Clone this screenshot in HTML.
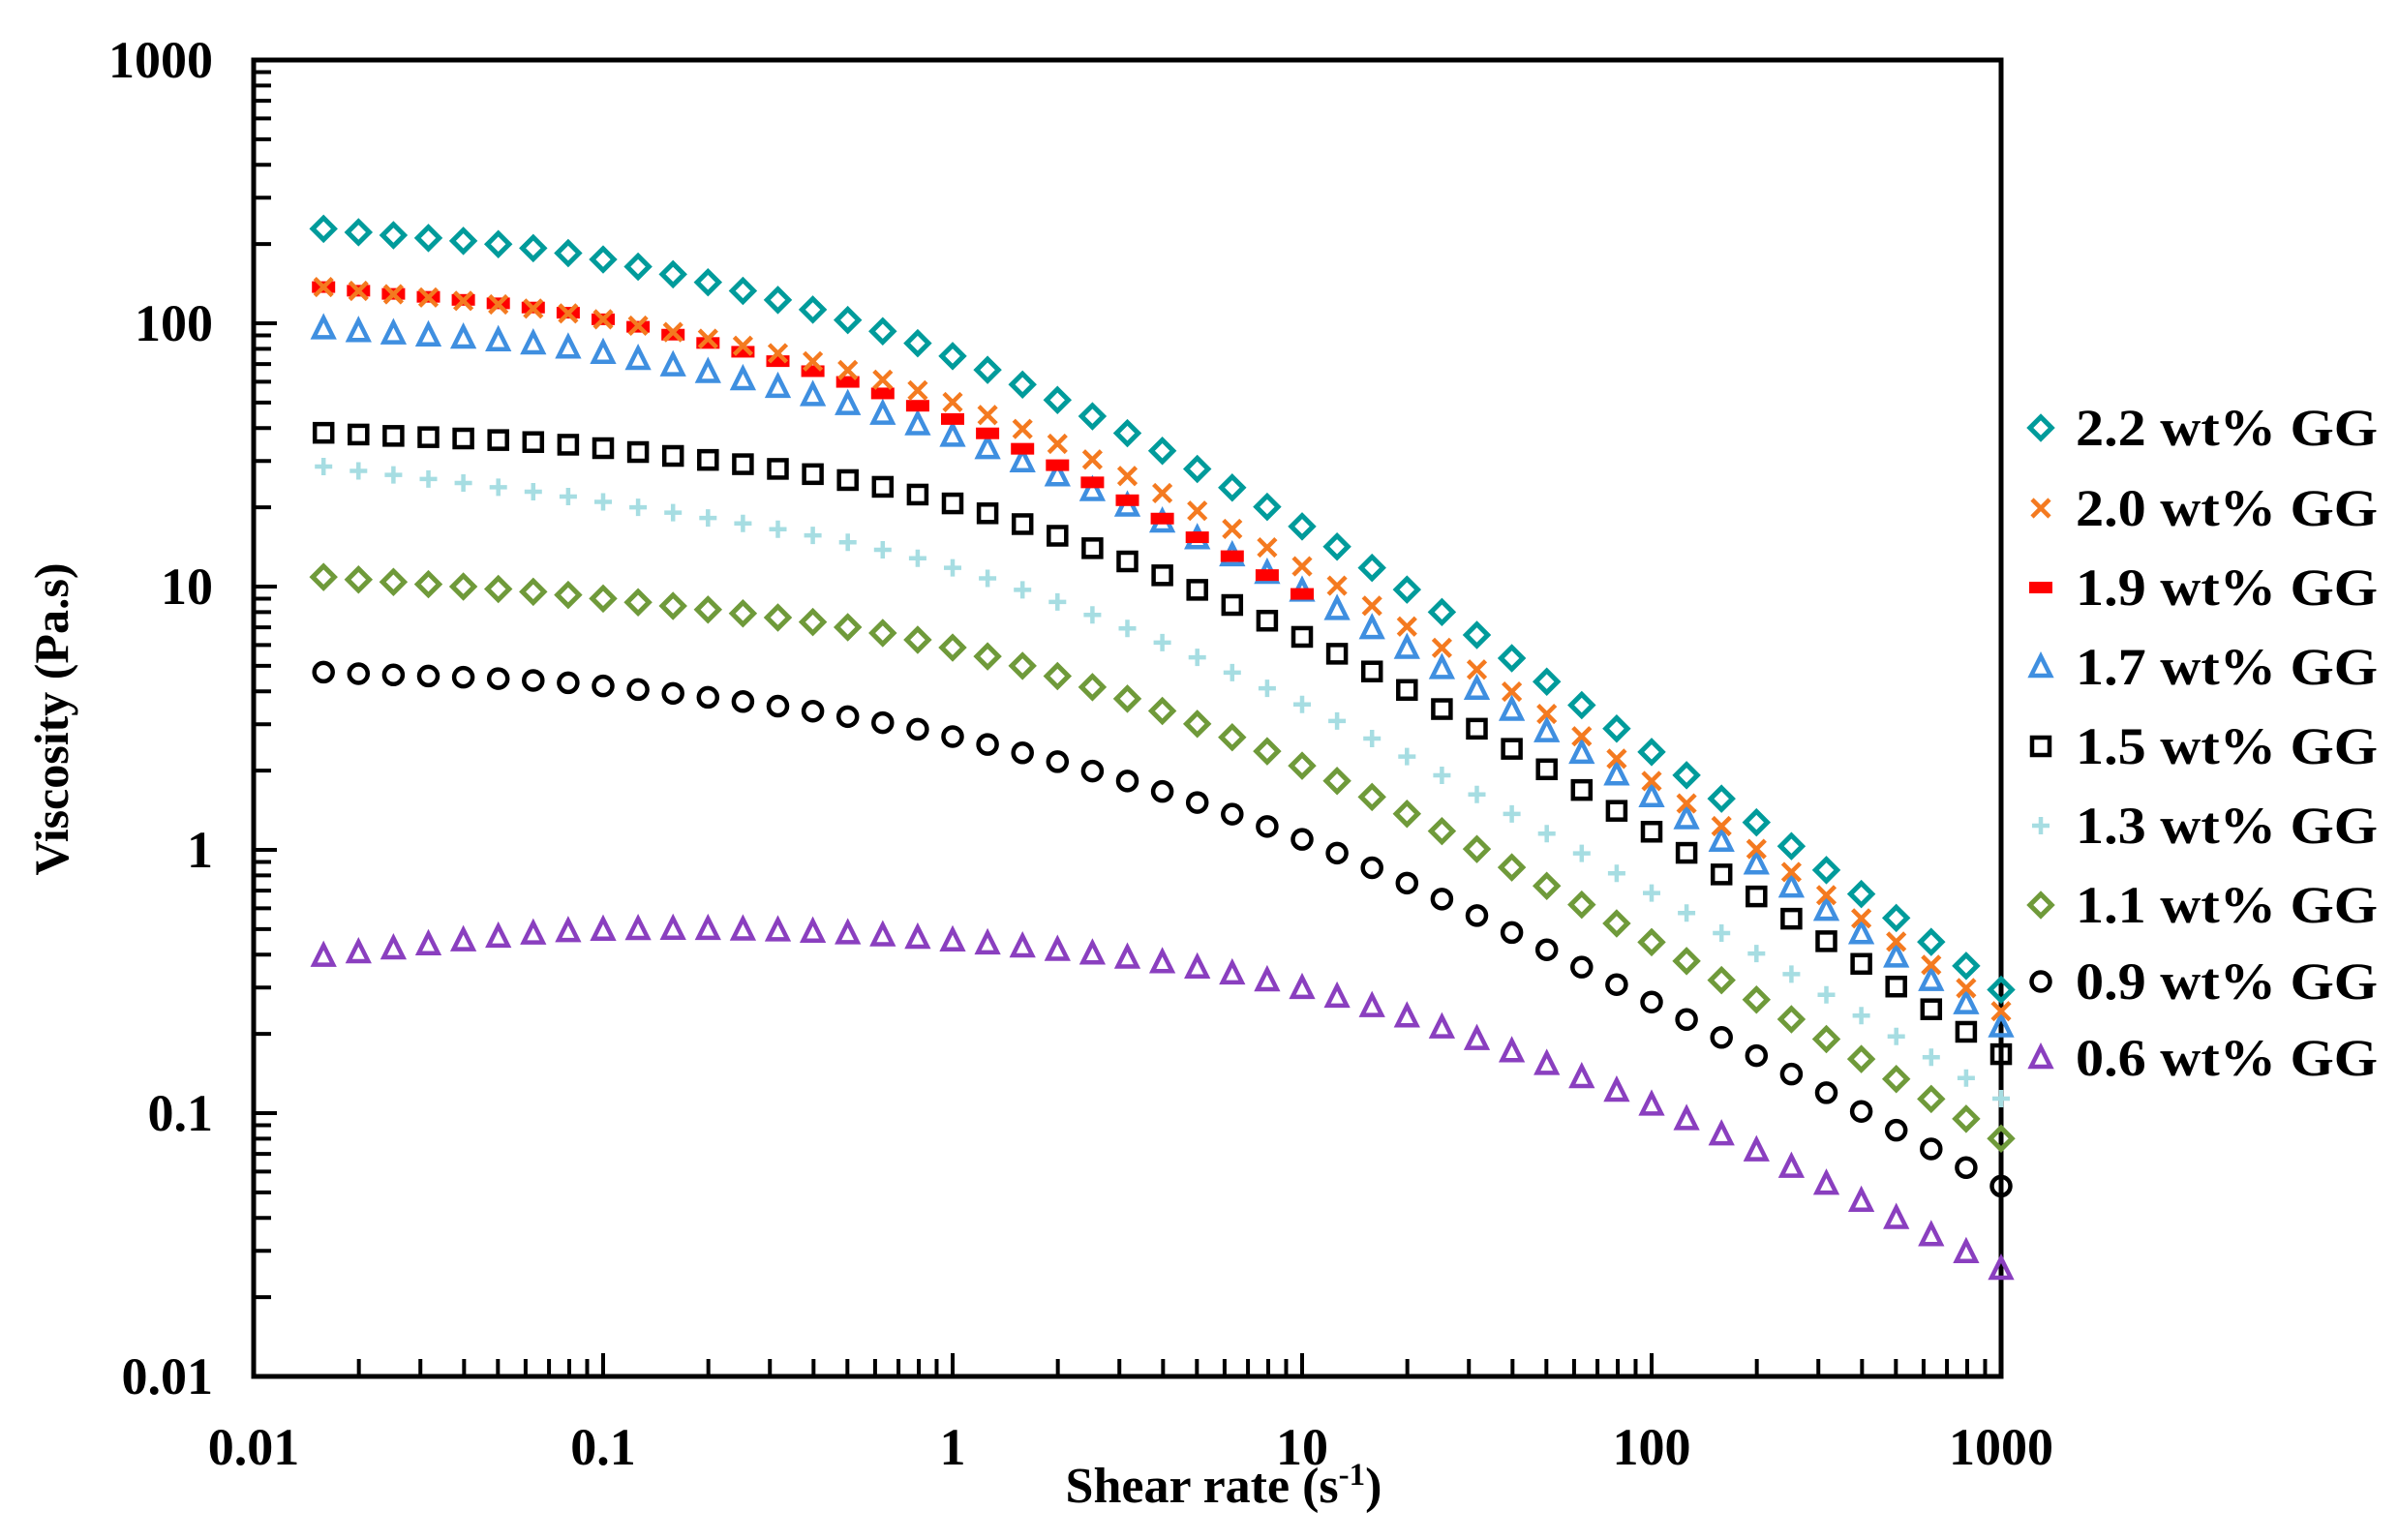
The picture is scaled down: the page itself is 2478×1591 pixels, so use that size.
<!DOCTYPE html>
<html><head><meta charset="utf-8"><style>
html,body{margin:0;padding:0;background:#fff;}
svg{display:block;font-family:"Liberation Serif",serif;font-weight:bold;}
</style></head><body>
<svg id="s" width="2478" height="1591" viewBox="0 0 2478 1591" xmlns="http://www.w3.org/2000/svg">
<rect width="2478" height="1591" fill="#fff"/>
<g id="ax"></g>
<g id="pts"></g>
<text x="1264" y="1552" font-size="52" text-anchor="middle">Shear rate (s<tspan dy="-18" font-size="33">-1</tspan><tspan dy="18">)</tspan></text>
<text transform="translate(70,743) rotate(-90)" font-size="50" text-anchor="middle">Viscosity (Pa.s)</text>
<g id="leg" font-size="54"></g>
</svg>
<script>
var NS="http://www.w3.org/2000/svg";
var L=262,R=2067,T=62,B=1422;
function X(lx){return L+(lx+2)*(R-L)/5;}
function Y(ly){return B-(ly+2)*(B-T)/5;}
function el(p,t,a){var e=document.createElementNS(NS,t);for(var k in a)e.setAttribute(k,a[k]);p.appendChild(e);return e;}
var ax=document.getElementById('ax');
for(var d=-2;d<3;d++){for(var m=1;m<10;m++){var v=d+Math.log10(m);var len=(m==1)?24:18;
 var x=X(v);if(m>1||d>-2){el(ax,'line',{x1:x,y1:B,x2:x,y2:B-len,stroke:'#000','stroke-width':4});}
 var y=Y(v);if(m>1||d>-2){el(ax,'line',{x1:L,y1:y,x2:L+len,y2:y,stroke:'#000','stroke-width':4});}
}}
el(ax,'rect',{x:L,y:T,width:R-L,height:B-T,fill:'none',stroke:'#000','stroke-width':5});
var labs=['0.01','0.1','1','10','100','1000'];
for(var i=0;i<6;i++){
 var t=el(ax,'text',{x:X(i-2),y:1513,'font-size':54,'text-anchor':'middle'});t.textContent=labs[i];
 var t2=el(ax,'text',{x:220,y:Y(i-2)+18,'font-size':54,'text-anchor':'end'});t2.textContent=labs[i];
}
function ys(y){return 62+(y-42)*1.585;}
var xs=[-1.8,-1,0,1,2,3];
var series=[
 {c:'#009b9b',m:'dia',y:[152,172,235,346,493,648]},
 {c:'#f47a20',m:'x',y:[190,211,265,372,512,662]},
 {c:'#ff0000',m:'dash',y:[190,211,276,390,520,670],max:1},
 {c:'#3f8fe0',m:'tri',y:[217,233,287,388,522,672]},
 {c:'#000',m:'sq',y:[285,295,331,418,545,690]},
 {c:'#a6dde2',m:'plus',y:[307,330,373,462,585,719]},
 {c:'#6f9a3a',m:'dia',y:[379,393,425,502,617,745]},
 {c:'#000',m:'circ',y:[441,450,483,550,656,776]},
 {c:'#8a3fbf',m:'tri',y:[626,609,616,647,723,830]}
];
function interp(arr,x){
 var i=0;while(i<xs.length-2&&x>xs[i+1])i++;
 var x0=xs[i],x1=xs[i+1],t=(x-x0)/(x1-x0);
 var p0=arr[Math.max(i-1,0)],p1=arr[i],p2=arr[i+1],p3=arr[Math.min(i+2,arr.length-1)];
 var h=x1-x0;
 var m1=(i==0)?(p2-p1):(p2-p0)/(x1-xs[i-1])*h;
 var m2=(i+1==arr.length-1)?(p2-p1):(p3-p1)/(xs[i+2]-x0)*h;
 var t2=t*t,t3=t2*t;
 return (2*t3-3*t2+1)*p1+(t3-2*t2+t)*m1+(-2*t3+3*t2)*p2+(t3-t2)*m2;
}
function marker(g,m,c,x,y){
 var s=1.12;
 if(m=='dia')el(g,'polygon',{points:(x)+','+(y-10*s)+' '+(x+10*s)+','+y+' '+x+','+(y+10*s)+' '+(x-10*s)+','+y,fill:'none',stroke:c,'stroke-width':5});
 else if(m=='x'){el(g,'path',{d:'M'+(x-9)+' '+(y-9)+'L'+(x+9)+' '+(y+9)+'M'+(x+9)+' '+(y-9)+'L'+(x-9)+' '+(y+9),stroke:c,'stroke-width':4.5});}
 else if(m=='dash')el(g,'rect',{x:x-12,y:y-6,width:24,height:12,fill:c});
 else if(m=='tri')el(g,'polygon',{points:x+','+(y-11)+' '+(x+10)+','+(y+9)+' '+(x-10)+','+(y+9),fill:'none',stroke:c,'stroke-width':4.5});
 else if(m=='sq')el(g,'rect',{x:x-9,y:y-9,width:18,height:18,fill:'none',stroke:c,'stroke-width':4.5});
 else if(m=='plus')el(g,'path',{d:'M'+(x-9)+' '+y+'L'+(x+9)+' '+y+'M'+x+' '+(y-9)+'L'+x+' '+(y+9),stroke:c,'stroke-width':4.5});
 else if(m=='circ')el(g,'circle',{cx:x,cy:y,r:9.5,fill:'none',stroke:c,'stroke-width':4.5});
}
var g=document.getElementById('pts');
for(var s=series.length-1;s>=0;s--){var S=series[s];
 for(var k=0;k<=48;k++){var lx=-1.8+k*0.1;if(S.max!==undefined&&lx>S.max+0.001)break;
  marker(g,S.m,S.c,X(lx),ys(interp(S.y,lx)));}
}
var names=['2.2','2.0','1.9','1.7','1.5','1.3','1.1','0.9','0.6'];
var lg=document.getElementById('leg');
var rows=[442,525,607,689,771,853,935,1014,1093];
for(var i=0;i<9;i++){marker(lg,series[i].m,series[i].c,2108,rows[i]);
 var t=el(lg,'text',{x:2144,y:rows[i]+18,textLength:312,lengthAdjust:'spacingAndGlyphs'});t.textContent=names[i]+' wt% GG';}
</script>
</body></html>
